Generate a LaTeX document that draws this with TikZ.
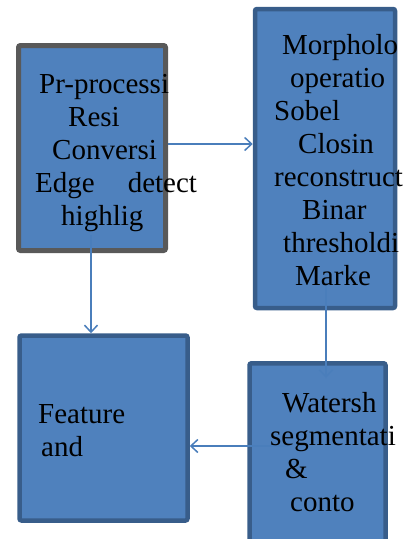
\documentclass[tikz,border=0pt]{standalone}
\usepackage{fontspec}
\setmainfont{Liberation Serif}
\usetikzlibrary{arrows.meta}
\definecolor{boxfill}{HTML}{4F81BD}
\definecolor{boxline}{HTML}{385D8A}
\definecolor{grayline}{HTML}{595959}
\definecolor{arrowline}{HTML}{4A7EBB}
\tikzset{
    stagebox/.style = {rectangle, rounded corners=2pt, fill=boxfill, draw=boxline, line width=4.5pt, inner sep=0pt},
    stageboxg/.style = {stagebox, draw=grayline, line width=5pt},
    steptext/.style = {anchor=base west, inner sep=0pt, font=\fontsize{29}{33}\selectfont, text=black},
    flow/.style = {-{Straight Barb[length=7pt,width=13pt]}, line width=1.5pt, arrowline}
}

\begin{document}
\begin{tikzpicture}[x=1pt,y=-1pt]
\clip (0,0) rectangle (413,539);
\useasboundingbox (0,0) rectangle (413,539);

% boxes
\node[stageboxg, minimum width=147pt, minimum height=205pt] at (92,148) (boxA) {};
\node[stagebox, minimum width=140pt, minimum height=299pt] at (325,158.5) (boxB) {};
\node[stagebox, minimum width=168pt, minimum height=185pt] at (103.5,428) (boxC) {};
\node[stagebox, minimum width=136pt, minimum height=181.5pt] at (317.5,454) (boxD) {};

% connectors
\coordinate (preOut) at (91,235);
\coordinate (morphOut) at (326,278);
\coordinate (wsIn) at (326,378);
\coordinate (wsOut) at (288,446);
\draw[flow] ([yshift=4pt]boxA.east) -- ([yshift=4pt]boxA.east -| boxB.west);
\draw[flow] (preOut) -- (preOut |- boxC.north);
\draw[flow] (morphOut) -- (wsIn);
\draw[flow] (wsOut) -- (wsOut -| boxC.east);

% texts of box A
\node[steptext] at (39,93) (preA) {Pr-processi};
\node[steptext] at (68,126) (preB) {Resi};
\node[steptext] at (52,159) (preC) {Conversi};
\node[steptext] at (35,192) (preD) {Edge\hspace{33pt}detect};
\node[steptext] at (61,225) (preE) {highlig};
% texts of box B
\node[steptext] at (282,54) (morA) {Morpholo};
\node[steptext] at (290,87) (morB) {operatio};
\node[steptext] at (274,120) (morC) {Sobel};
\node[steptext] at (298,153) (morD) {Closin};
\node[steptext] at (274,186) (morE) {reconstruct};
\node[steptext] at (302,219) (morF) {Binar};
\node[steptext] at (283,252) (morG) {thresholdi};
\node[steptext] at (295,285) (morH) {Marke};
% texts of box C
\node[steptext] at (38,423) (feaA) {Feature};
\node[steptext] at (41,456) (feaB) {and};
% texts of box D
\node[steptext] at (282,412) (wsA) {Watersh};
\node[steptext] at (270,445) (wsB) {segmentati};
\node[steptext] at (285,478) (wsC) {\&};
\node[steptext] at (290,511) (wsD) {conto};

\end{tikzpicture}
\end{document}
